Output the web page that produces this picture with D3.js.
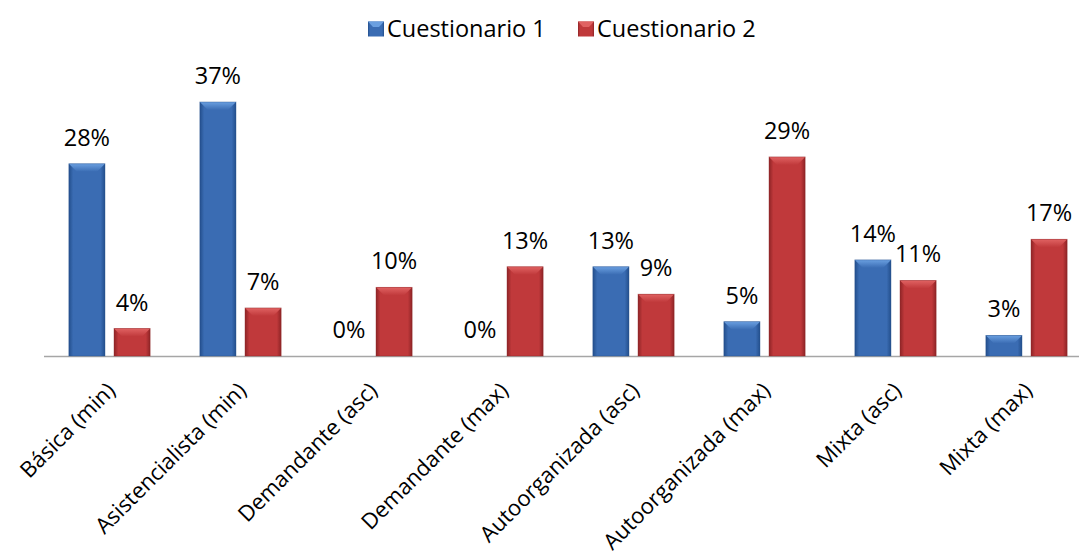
<!DOCTYPE html>
<html><head><meta charset="utf-8">
<script src="https://cdn.jsdelivr.net/npm/d3@7"></script>
<style>body{margin:0;background:#fff}svg{display:block}text{font-family:"Open Sans","Noto Sans",sans-serif}</style>
</head><body><svg id="c" width="1079" height="556"></svg>
<script>
const categories = ["Básica (min)","Asistencialista (min)","Demandante (asc)","Demandante (max)","Autoorganizada (asc)","Autoorganizada (max)","Mixta (asc)","Mixta (max)"];
const seriesNames = ["Cuestionario 1","Cuestionario 2"];
const cuestionario1 = [28,37,0,0,13,5,14,3];
const cuestionario2 = [4,7,10,13,9,29,11,17];
const colors = [{base:"#3a6cb3",light:"#6a9fe0",dark:"#234f8c"},{base:"#c0393b",light:"#e06262",dark:"#8e2426"}];

const svg = d3.select("#c");
const W=1079,H=556, left=44, right=1092, base=356, fs=23.5, fsAxis=22;
const x0 = d3.scaleBand().domain(categories).range([left,right]).paddingInner(0).paddingOuter(0);
const x1 = d3.scaleBand().domain(seriesNames).range([0,x0.bandwidth()]).paddingInner(0.2).paddingOuter(0.55);
const y = d3.scaleLinear().domain([0,37]).range([base, base-254]);

const defs = svg.append("defs");
colors.forEach((c,i)=>{
  const g = defs.append("linearGradient").attr("id","g"+i).attr("x1","0").attr("x2","1").attr("y1","0").attr("y2","0");
  g.append("stop").attr("offset","0").attr("stop-color",c.dark);
  g.append("stop").attr("offset","0.12").attr("stop-color",c.base);
  g.append("stop").attr("offset","0.5").attr("stop-color",c.base);
  g.append("stop").attr("offset","0.88").attr("stop-color",c.base);
  g.append("stop").attr("offset","1").attr("stop-color",c.dark);
  const t = defs.append("linearGradient").attr("id","t"+i).attr("x1","0").attr("x2","0").attr("y1","0").attr("y2","1");
  t.append("stop").attr("offset","0").attr("stop-color",c.light);
  t.append("stop").attr("offset","1").attr("stop-color",c.base);
});

// axis line
svg.append("line").attr("x1",left).attr("x2",W).attr("y1",base+0.5).attr("y2",base+0.5).attr("stroke","#a6a6a6").attr("stroke-width",1.5);

const data = categories.map((c,i)=>({cat:c, vals:[cuestionario1[i],cuestionario2[i]]}));
const groups = svg.append("g").selectAll("g").data(data).join("g").attr("transform",d=>`translate(${x0(d.cat)},0)`);
groups.each(function(d){
  const g = d3.select(this);
  d.vals.forEach((v,i)=>{
    const bx = x1(seriesNames[i]), bw = x1.bandwidth(), by = y(v), bh = base - by;
    if(v>0){
      g.append("rect").attr("x",bx).attr("y",by).attr("width",bw).attr("height",bh).attr("fill",`url(#g${i})`);
      const bev = Math.min(8, bh/2);
      g.append("path").attr("d",`M${bx},${by}L${bx+bw},${by}L${bx+bw-bev},${by+bev}L${bx+bev},${by+bev}Z`).attr("fill",`url(#t${i})`);
      g.append("rect").attr("x",bx).attr("y",by).attr("width",bw).attr("height",bh).attr("fill","none").attr("stroke",colors[i].dark).attr("stroke-opacity",0.5).attr("stroke-width",0.8);
    }
    g.append("text").attr("x",bx+bw/2).attr("y",by-18).attr("text-anchor","middle").attr("font-size",fs).attr("fill","#000").text(v+"%");
  });
});

// category labels
svg.append("g").selectAll("text").data(categories).join("text")
  .attr("transform",d=>`translate(${x0(d)+x0.bandwidth()/2+7},${base+36}) rotate(-45)`)
  .attr("text-anchor","end").attr("font-size",fsAxis).attr("fill","#000").text(d=>d);

// legend
const leg = svg.append("g");
const legX=[368,578];
seriesNames.forEach((s,i)=>{
  leg.append("rect").attr("x",legX[i]).attr("y",21.5).attr("width",16).attr("height",15).attr("fill",`url(#g${i})`);
  leg.append("path").attr("d",`M${legX[i]},21.5L${legX[i]+16},21.5L${legX[i]+11},27L${legX[i]+5},27Z`).attr("fill",colors[i].light);
  leg.append("text").attr("x",legX[i]+19).attr("y",37).attr("font-size",fs).attr("fill","#000").text(s);
});
</script></body></html>
